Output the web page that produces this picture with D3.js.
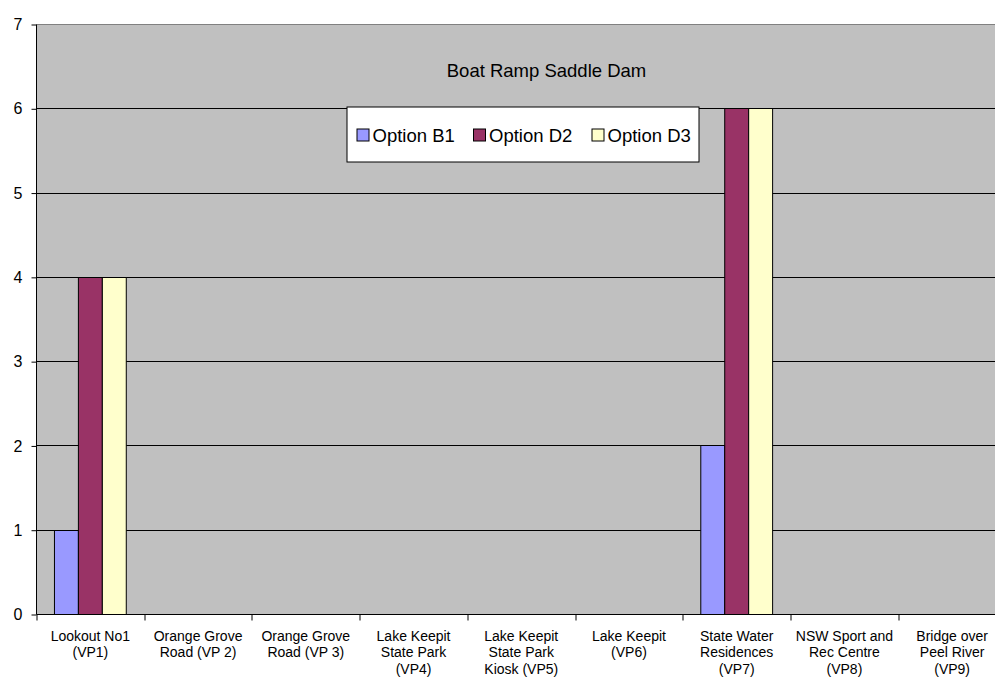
<!DOCTYPE html>
<html>
<head>
<meta charset="utf-8">
<script src="https://cdn.jsdelivr.net/npm/d3@7"></script>
<style>
	body { margin: 0; background: #fff; }
	svg { display: block; font-family: Arial, "Liberation Sans", sans-serif; }
</style>
</head>
<body>
<div id="chart"></div>
<script>
// data
var categories = [
	["Lookout No1", "(VP1)"],
	["Orange Grove", "Road (VP 2)"],
	["Orange Grove", "Road (VP 3)"],
	["Lake Keepit", "State Park", "(VP4)"],
	["Lake Keepit", "State Park", "Kiosk (VP5)"],
	["Lake Keepit", "(VP6)"],
	["State Water", "Residences", "(VP7)"],
	["NSW Sport and", "Rec Centre", "(VP8)"],
	["Bridge over", "Peel River", "(VP9)"]
];
var seriesNames = ["Option B1", "Option D2", "Option D3"];
var seriesColors = ["#9999FF", "#993366", "#FFFFCC"];
var optionB1 = [1, 0, 0, 0, 0, 0, 2, 0, 0];
var optionD2 = [4, 0, 0, 0, 0, 0, 6, 0, 0];
var optionD3 = [4, 0, 0, 0, 0, 0, 6, 0, 0];
var yTicks = [0, 1, 2, 3, 4, 5, 6, 7];
var chartTitle = "Boat Ramp Saddle Dam";

var values = [optionB1, optionD2, optionD3];

// dimensions
var width = 995, height = 678;
var m = { left: 36.5, top: 24.5, right: -11, bottom: 63 };
var plotW = width - m.left - m.right;
var plotH = height - m.top - m.bottom - 0.5;

var svg = d3.select("#chart").append("svg")
	.attr("width", width)
	.attr("height", height);

var plot = svg.append("g")
	.attr("transform", "translate(" + m.left + "," + m.top + ")");

// scales
var x = d3.scaleBand()
	.domain(d3.range(categories.length))
	.range([0, plotW]);

var xInner = d3.scaleBand()
	.domain(d3.range(seriesNames.length))
	.range([0, x.bandwidth()])
	.paddingOuter(0.75);

var y = d3.scaleLinear()
	.domain([0, 7])
	.range([plotH, 0]);

// background
plot.append("rect")
	.attr("width", plotW)
	.attr("height", plotH)
	.attr("fill", "#C0C0C0");

// gridlines
plot.append("g").selectAll("line")
	.data(yTicks.filter(function(d) { return d > 0; }))
	.enter().append("line")
	.attr("x1", 0)
	.attr("x2", plotW)
	.attr("y1", function(d) { return Math.round(y(d)); })
	.attr("y2", function(d) { return Math.round(y(d)); })
	.attr("stroke", function(d) { return d === 7 ? "#808080" : "#000"; })
	.attr("stroke-width", 1);

// bars
var groups = plot.append("g").selectAll("g")
	.data(categories)
	.enter().append("g")
	.attr("transform", function(d, i) { return "translate(" + x(i) + ",0)"; });

groups.selectAll("rect")
	.data(function(d, i) {
		return values.map(function(s, k) { return { k: k, v: s[i] }; })
			.filter(function(e) { return e.v > 0; });
	})
	.enter().append("rect")
	.attr("x", function(d) { return xInner(d.k); })
	.attr("y", function(d) { return Math.round(y(d.v)); })
	.attr("width", xInner.bandwidth())
	.attr("height", function(d) { return Math.round(y(0)) - Math.round(y(d.v)); })
	.attr("fill", function(d) { return seriesColors[d.k]; })
	.attr("stroke", "#000")
	.attr("stroke-width", 1);

// y axis
var yAxis = plot.append("g")
	.call(d3.axisLeft(y).tickValues(yTicks).tickSize(5).tickPadding(9).tickFormat(d3.format("d")));
yAxis.selectAll("text").attr("font-size", 16).attr("fill", "#000")
	.attr("font-family", "Arial, 'Liberation Sans', sans-serif");
yAxis.selectAll("line, path").attr("stroke", "#000");
yAxis.select(".domain").attr("d", "M0," + plotH + "V0");

// x axis
var xAxisG = plot.append("g")
	.attr("transform", "translate(0," + plotH + ")");
xAxisG.append("line")
	.attr("x1", 0).attr("x2", plotW)
	.attr("stroke", "#000");
xAxisG.selectAll(".tick")
	.data(d3.range(categories.length + 1))
	.enter().append("line")
	.attr("x1", function(i) { return Math.round(i * x.step()) + 0.5; })
	.attr("x2", function(i) { return Math.round(i * x.step()) + 0.5; })
	.attr("y1", 0).attr("y2", 6)
	.attr("stroke", "#000");

var labels = xAxisG.selectAll(".label")
	.data(categories)
	.enter().append("text")
	.attr("text-anchor", "middle")
	.attr("font-size", 14)
	.attr("fill", "#000")
	.attr("transform", function(d, i) { return "translate(" + (x(i) + x.bandwidth() / 2) + ",26)"; });
labels.selectAll("tspan")
	.data(function(d) { return d; })
	.enter().append("tspan")
	.attr("x", 0)
	.attr("dy", function(d, j) { return j === 0 ? 0 : 16.7; })
	.text(function(d) { return d; });

// title
plot.append("text")
	.attr("x", 546.5 - m.left)
	.attr("y", 77 - m.top)
	.attr("text-anchor", "middle")
	.attr("font-size", 18.5)
	.attr("fill", "#000")
	.text(chartTitle);

// legend
var legend = plot.append("g")
	.attr("transform", "translate(" + (347 - m.left) + "," + (107 - m.top) + ")");
legend.append("rect")
	.attr("width", 352)
	.attr("height", 55)
	.attr("fill", "#fff")
	.attr("stroke", "#000");

var legendX = [10, 126.5, 245];
var item = legend.selectAll(".item")
	.data(seriesNames)
	.enter().append("g")
	.attr("transform", function(d, i) { return "translate(" + legendX[i] + ",22)"; });
item.append("rect")
	.attr("width", 12)
	.attr("height", 12)
	.attr("fill", function(d, i) { return seriesColors[i]; })
	.attr("stroke", "#000");
item.append("text")
	.attr("x", 15.5)
	.attr("y", 12.5)
	.attr("font-size", 18.5)
	.attr("fill", "#000")
	.text(function(d) { return d; });
</script>
</body>
</html>
